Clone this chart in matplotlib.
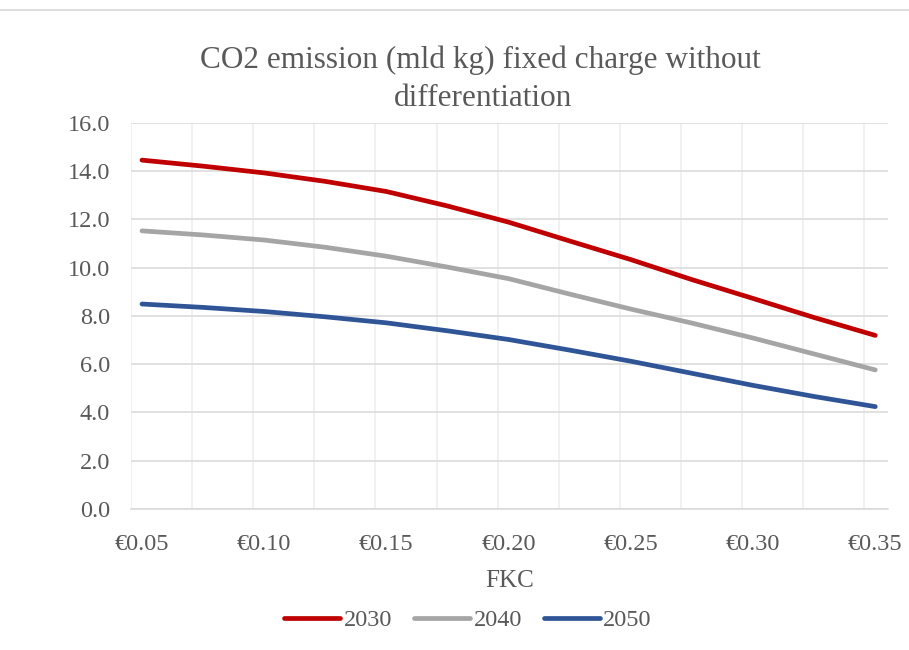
import numpy as np
import matplotlib.pyplot as plt
from matplotlib.lines import Line2D
from matplotlib.ticker import FixedLocator, FuncFormatter

# データ
fkc = [0.05, 0.075, 0.10, 0.125, 0.15, 0.175, 0.20, 0.225, 0.25, 0.275, 0.30, 0.325, 0.35]
co2_2030 = [14.45, 14.2, 13.92, 13.57, 13.15, 12.55, 11.88, 11.1, 10.33, 9.5, 8.72, 7.93, 7.19]
co2_2040 = [11.52, 11.35, 11.14, 10.84, 10.47, 10.02, 9.54, 8.9, 8.28, 7.7, 7.08, 6.42, 5.76]
co2_2050 = [8.49, 8.35, 8.18, 7.96, 7.71, 7.38, 7.02, 6.58, 6.12, 5.62, 5.12, 4.66, 4.24]
series_names = ['2030', '2040', '2050']
colors = ['#C00000', '#A5A5A5', '#2F5597']
xticks = [0.05, 0.10, 0.15, 0.20, 0.25, 0.30, 0.35]
yticks = np.arange(0, 17, 2)

plt.rcParams['font.family'] = ['Liberation Serif', 'DejaVu Serif']
txt = '#595959'

fig = plt.figure(figsize=(9.09, 6.5), dpi=100)
ax = fig.add_axes([131/909, 1-509/650, (888-131)/909, (509-122.7)/650])

for ys, name, c in zip([co2_2030, co2_2040, co2_2050], series_names, colors):
    ax.plot(fkc, ys, color=c, lw=3.4, solid_capstyle='round', solid_joinstyle='round', label=name)

ax.set_xlim(0.0455, 0.3552)
ax.set_ylim(0, 16)
ax.set_xticks(xticks)
ax.xaxis.set_major_formatter(FuncFormatter(lambda v, p: '€%.2f' % v))
ax.xaxis.set_minor_locator(FixedLocator(0.0455 + 0.025*np.arange(13)))
ax.set_yticks(yticks)
ax.yaxis.set_major_formatter(FuncFormatter(lambda v, p: '%.1f' % v))

# グリッド
ax.grid(axis='y', which='major', color='#D9D9D9', lw=1.1)
ax.grid(axis='x', which='minor', color='#EDEDED', lw=1.1)
ax.set_axisbelow(True)
for s in ['top', 'right', 'left']:
    ax.spines[s].set_visible(False)
ax.spines['bottom'].set_color('#D9D9D9')
ax.spines['bottom'].set_linewidth(1.1)

ax.tick_params(axis='both', which='both', length=0, labelsize=17.5, labelcolor=txt)
ax.tick_params(axis='y', pad=15)
ax.tick_params(axis='x', pad=18)
ax.set_xlabel('FKC', fontsize=18, color=txt, labelpad=11)

# タイトル
fig.text(480/909, 1-60/650, 'CO2 emission (mld kg) fixed charge without', ha='center', va='center', fontsize=22.5, color=txt)
fig.text(483/909, 1-98/650, 'differentiation', ha='center', va='center', fontsize=22.5, color=txt)

fig.legend(loc='center', bbox_to_anchor=(468/909, 1-620/650), ncol=3, frameon=False,
           fontsize=17.5, labelcolor=txt, handlelength=2.3, handletextpad=0.15, columnspacing=0.9)

# 枠線（上）
fig.add_artist(Line2D([0, 1], [1-10/650, 1-10/650], color='#D9D9D9', lw=1.2, transform=fig.transFigure))

fig.savefig('out.png', dpi=100)
